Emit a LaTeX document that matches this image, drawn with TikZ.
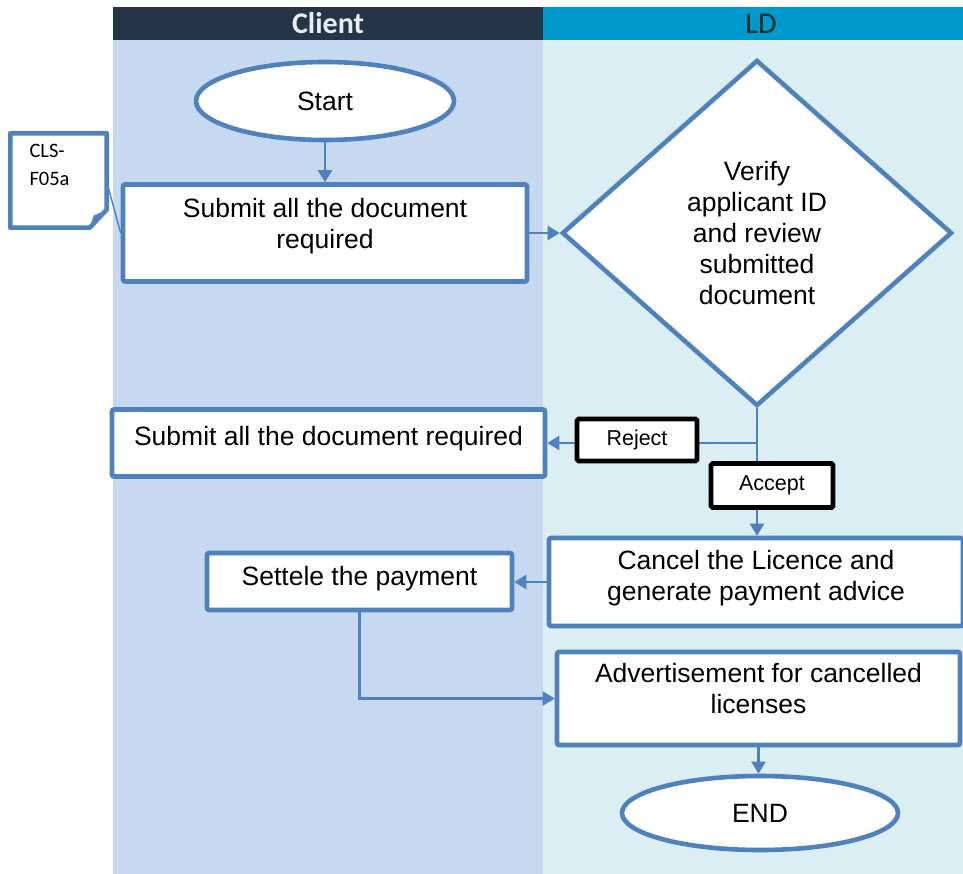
\documentclass[tikz,border=0pt]{standalone}
\usepackage{fontspec}
\setmainfont{Liberation Sans}
\newfontfamily\carl{Carlito}
\usetikzlibrary{shapes.geometric,arrows.meta,calc}
\definecolor{bblue}{HTML}{4F81BD}
\definecolor{laneC}{HTML}{C6D9F1}
\definecolor{laneL}{HTML}{DAEEF3}
\definecolor{hdrC}{HTML}{253547}
\definecolor{hdrL}{HTML}{0099CC}
\definecolor{hdrCtxt}{HTML}{E8EEF2}
\definecolor{hdrLtxt}{HTML}{0B2A1E}
\tikzset{
  mainfont/.style={font=\fontsize{26.5}{31}\selectfont},
  procbox/.style={draw=bblue, line width=4.6pt, fill=white, rounded corners=2pt,
    align=center, mainfont, inner sep=2pt},
  termin/.style={ellipse, draw=bblue, line width=4.6pt, fill=white, mainfont, inner sep=0pt},
  decis/.style={diamond, draw=bblue, line width=4.6pt, fill=white, align=center,
    mainfont, inner sep=0pt},
  tag/.style={draw=black, line width=4.6pt, fill=white, rounded corners=1.5pt,
    font=\fontsize{21.5}{25}\selectfont, inner sep=0pt},
  conn/.style={draw=bblue, line width=2.3pt, -{Triangle[width=14pt,length=12pt]}},
  thin/.style={draw=bblue, line width=1.4pt},
  hdr/.style={font=\carl\bfseries\fontsize{30}{32}\selectfont}
}
\begin{document}
\begin{tikzpicture}[x=1pt,y=-1pt]
\useasboundingbox (0,0) rectangle (963,874);
\clip (0,0) rectangle (963,874);
\fill[white] (0,0) rectangle (963,874);
% lanes
\fill[laneC] (113,40) rectangle (543,874);
\fill[laneL] (543,40) rectangle (963,874);
\fill[hdrC] (113,7) rectangle (543,40);
\fill[hdrL] (543,7) rectangle (963,40);
\node[hdr, text=hdrCtxt] (hclient) at (328,23.5) {Client};
\node[hdr, text=hdrLtxt, font=\carl\fontsize{30}{32}\selectfont] (hld) at (761,23.5) {LD};

% note
\node[minimum width=96pt, minimum height=94pt, inner sep=0pt] (note) at (58.5,180.5) {};
\draw[bblue, line width=4.6pt, line join=round, fill=white]
  (note.north west) -- (note.north east) -- ($(note.south east)+(0,-18)$)
  -- ($(note.south east)+(-17,0)$) -- (note.south west) -- cycle;
\fill[bblue] ($(note.south east)+(0,-18)$) -- ($(note.south east)+(-13,-12)$)
  -- ($(note.south east)+(-17,0)$) -- cycle;
\node[font=\carl\fontsize{20.5}{28}\selectfont, align=left, anchor=north west]
  (notetxt) at (26,141) {CLS-\\F05a};

% nodes
\node[termin, minimum width=258pt, minimum height=78pt] (start) at (325,101) {Start};
\node[procbox, minimum width=404pt, minimum height=97pt, text depth=20pt] (sub1) at (325,233)
  {Submit all the document\\required};
\node[decis, minimum width=390pt, minimum height=346pt] (dec) at (757,233)
  {Verify\\applicant ID\\and review\\submitted\\document};
\node[procbox, minimum width=433pt, minimum height=67pt, text depth=14pt] (sub2) at (328.5,443)
  {Submit all the document required};
\node[procbox, minimum width=414pt, minimum height=88pt, text depth=14pt] (cancel) at (756,582)
  {Cancel the Licence and\\generate payment advice};
\node[procbox, minimum width=305pt, minimum height=57pt, text depth=12pt] (settle) at (359.5,581.5)
  {Settele the payment};
\node[procbox, minimum width=403pt, minimum height=93pt, text depth=20pt] (advert) at (758.5,698.5)
  {Advertisement for cancelled\\licenses};
\node[termin, minimum width=276pt, minimum height=74pt] (endn) at (760,813) {END};

% connectors
\draw[conn] (start.south) -- (sub1.north);
\draw[conn] (sub1.east) -- (dec.west);
\draw[conn] (dec.south) |- (sub2.east);
\draw[conn] (dec.south) -- (dec.south |- cancel.north);
\draw[conn] (cancel.west) -- (cancel.west -| settle.east);
\draw[conn] (settle.south) |- (advert.west);
\draw[conn] (advert.south) -- (advert.south |- endn.north);
\draw[thin] ($(note.east)+(1,5)$) -- (sub1.west);

% labels on connectors
\node[tag, minimum width=120pt, minimum height=42pt] (reject) at (637,440) {Reject};
\node[tag, minimum width=122pt, minimum height=44pt] (accept) at (772,485.5) {Accept};
\end{tikzpicture}
\end{document}
